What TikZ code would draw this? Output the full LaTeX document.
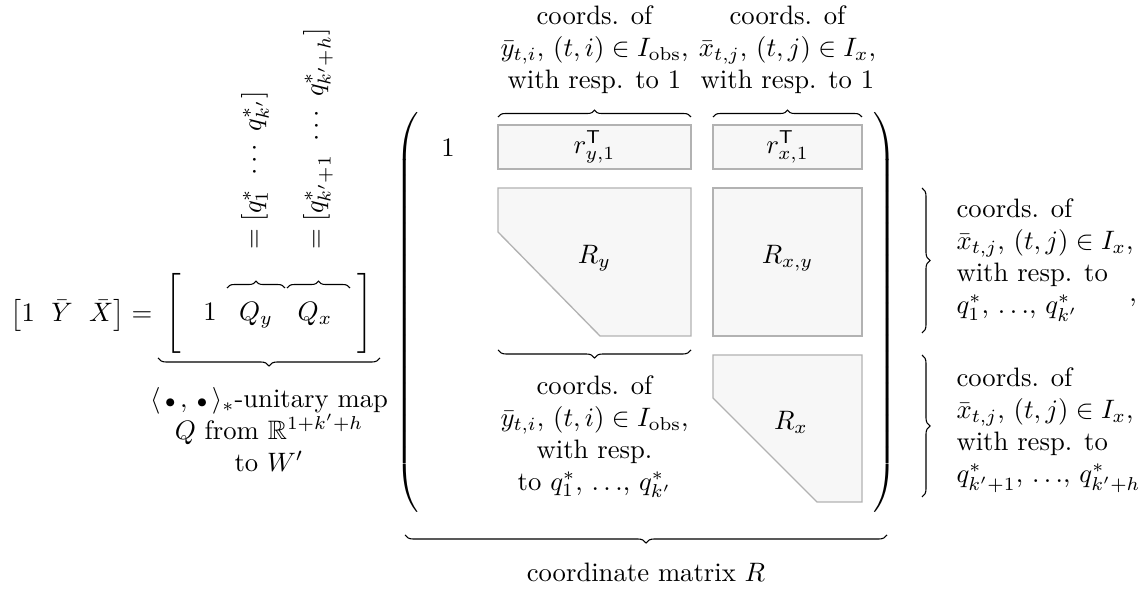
\documentclass[tikz,border=0pt]{standalone}
\usepackage{amsmath,amssymb}
\usetikzlibrary{decorations.pathreplacing,positioning}

% big delimiter of a given total height
\newcommand{\stretchdelim}[3]{{\delimiterfactor=1000 \delimitershortfall=0pt
  $\left#1\vcenter{\hrule height #3 width 0pt}\right#2$}}
\newcommand{\dotarg}{{\scriptstyle\bullet}}

\begin{document}
\begin{tikzpicture}[x=0.375pt, y=-0.375pt,
  blk/.style   = {draw=black!30, fill=black!3, line width=0.5pt},
  brc/.style   = {decorate, decoration={brace, amplitude=#1}, thin},
  brc/.default = 3pt,
  clbl/.style  = {align=center, inner sep=0pt},
  llbl/.style  = {align=left, inner sep=0pt},
]
\useasboundingbox (0,0) rectangle (1144,590);

% left hand side and the map Q
\node[inner sep=0pt, anchor=base east] (lhs) at (153,322)
  {$\bigl[1\mkern11mu\bar{Y}\mkern11mu\bar{X}\bigr]=$};
\node (qlb) at (173,313) {$\Biggl[$};
\node (qrb) at (365,313) {$\Biggr]$};
\node[anchor=base] (qone) at (210,321) {$1$};
\node[anchor=base] (qy)   at (256,321) {$Q_y$};
\node[anchor=base] (qx)   at (315,321) {$Q_x$};

\draw[brc=2.6pt] (227,288) -- (285,288);
\draw[brc=2.6pt] (287,288) -- (350,288);
\node[rotate=90, anchor=west, inner sep=0pt] (qyvec) at (255,250)
  {$=[q_1^*\ \cdots\ q_{k'}^*]$};
\node[rotate=90, anchor=west, inner sep=0pt] (qxvec) at (318,250)
  {$=[q_{k'+1}^*\ \cdots\ q_{k'+h}^*]$};

\draw[brc] (380,358) -- (158,358);
\node[clbl, anchor=north] (qname) at (269,387)
  {$\langle\,\dotarg\,,\,\dotarg\,\rangle_*$-unitary map\\
   $Q$ from $\mathbb{R}^{1+k'+h}$\\
   to $W'$};

% coordinate matrix R
\node[inner sep=0pt] (rlp) at (409,312) {\stretchdelim{(}{.}{148pt}};
\node[inner sep=0pt] (rrp) at (884,312) {\stretchdelim{.}{)}{148pt}};
\node (rone) at (448,148) {$1$};

\draw[blk] (498,125) rectangle (691,169);
\draw[blk] (713,125) rectangle (862,169);
\draw[blk] (498,188) -- (691,188) -- (691,336) -- (600,336) -- (498,232) -- cycle;
\draw[blk] (713,188) rectangle (862,336);
\draw[blk] (713,355) -- (862,355) -- (862,502) -- (817,502) -- (713,398) -- cycle;

\node (ry1) at (594.5,147) {$r_{y,1}^{\mathsf{T}}$};
\node (rx1) at (787.5,147) {$r_{x,1}^{\mathsf{T}}$};
\node (Ry)  at (594.5,258) {$R_y$};
\node (Rxy) at (787.5,258) {$R_{x,y}$};
\node (Rx)  at (791,422)   {$R_x$};

% braces above the first row
\draw[brc=2.6pt] (498,117) -- (691,117);
\draw[brc=2.6pt] (713,117) -- (862,117);
\node[clbl, anchor=north] (topy) at (594.5,5)
  {coords. of\\ $\bar{y}_{t,i}$, $(t,i)\in I_{\mathrm{obs}}$,\\ with resp. to 1};
\node[clbl, anchor=north] (topx) at (787.5,5)
  {coords. of\\ $\bar{x}_{t,j}$, $(t,j)\in I_x$,\\ with resp. to 1};

% brace below R_y
\draw[brc] (691,350) -- (498,350);
\node[clbl, anchor=north] (boty) at (594.5,375)
  {coords. of\\ $\bar{y}_{t,i}$, $(t,i)\in I_{\mathrm{obs}}$,\\ with resp.\\
   to $q_1^*$, $\ldots$, $q_{k'}^*$};

% braces right of the matrix
\draw[brc] (922,188) -- (922,333);
\node[llbl, anchor=west] (rgt1) at (956,260)
  {coords. of\\ $\bar{x}_{t,j}$, $(t,j)\in I_x$,\\ with resp. to\\
   $q_1^*$, $\ldots$, $q_{k'}^*$};
\node (comma) at (1133,303) {,};
\draw[brc] (922,355) -- (922,497);
\node[llbl, anchor=west] (rgt2) at (956,430)
  {coords. of\\ $\bar{x}_{t,j}$, $(t,j)\in I_x$,\\ with resp. to\\
   $q_{k'+1}^*$, $\ldots$, $q_{k'+h}^*$};

% brace below the whole matrix
\draw[brc] (887,535) -- (405,535);
\node (rname) at (646,572) {coordinate matrix $R$};

\end{tikzpicture}
\end{document}
